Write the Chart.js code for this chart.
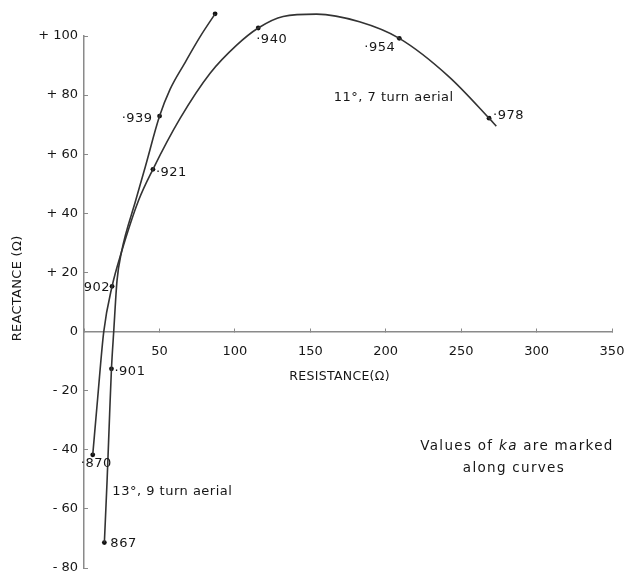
<!DOCTYPE html>
<html>
<head>
<meta charset="utf-8">
<script src="https://cdn.jsdelivr.net/npm/chart.js@4"></script>
<style>
html,body{margin:0;padding:0;background:#ffffff;overflow:hidden;width:638px;height:579px;}
#frame{width:638px;height:579px;overflow:hidden;position:relative;}
#wrap{width:638px;height:579px;position:relative;}
</style>
</head>
<body>
<div id="frame"><div id="wrap"><canvas id="c"></canvas></div></div>
<script>
// ---- data (resistance R in ohms, reactance X in ohms) ----
const aerial11Resistance = [5.8, 9.1, 13.1, 18.6, 24.8, 36.2, 45.7, 63.7, 83.6, 101.2, 115.5, 132.0, 154.2, 182.6, 209.0, 242.0, 268.5, 273.3];
const aerial11Reactance  = [-41.7, -22.3, 0, 15.3, 26.8, 44.4, 54.9, 72.1, 87.4, 96.9, 102.7, 106.6, 107.4, 104.8, 99.2, 86.2, 72.2, 69.5];

const aerial13Resistance = [13.5, 15.3, 17.0, 18.2, 19.7, 21.9, 24.8, 34.3, 40.6, 50.1, 57.1, 66.4, 76.9, 86.9];
const aerial13Reactance  = [-71.4, -50.5, -27.8, -12.6, 0, 17.3, 26.8, 44.4, 55.7, 72.9, 82.0, 90.5, 99.7, 107.5];

// marked ka values along the curves
const marked11Resistance = [5.8, 18.6, 45.7, 115.5, 209.0, 268.5];
const marked11Reactance  = [-41.7, 15.3, 54.9, 102.7, 99.2, 72.2];
const marked11Ka         = ['·870', '902', '·921', '·940', '·954', '·978'];

const marked13Resistance = [13.5, 18.2, 50.1, 86.9];
const marked13Reactance  = [-71.4, -12.6, 72.9, 107.5];
const marked13Ka         = ['867', '·901', '·939', ''];

const curveNames = ['11°, 7 turn aerial', '13°, 9 turn aerial'];
const xTickValues = [0, 50, 100, 150, 200, 250, 300, 350];
const yTickValues = [-80, -60, -40, -20, 0, 20, 40, 60, 80, 100];

// ---- styling ----
const FONT = '"DejaVu Sans", "Liberation Sans", sans-serif';
const INK = '#161616';
const LINE = '#333333';
const AXIS = '#8a8a8a';
// pixel frame of the reference plot: where R=0 / R=350 and X=100 / X=-80 sit
const PLOT_BOX = {left: 84, right: 612, top: 36, bottom: 568};
const pad = {top: 36, bottom: 11, left: 0, right: 26};

const labelStyle11 = [
  {dx: -12, dy: 9, align: 'left'},
  {dx: -2, dy: 1, align: 'right'},
  {dx: 3, dy: 3, align: 'left'},
  {dx: -2, dy: 12, align: 'left'},
  {dx: -4, dy: 9, align: 'right'},
  {dx: 4, dy: -3, align: 'left'}
];
const labelStyle13 = [
  {dx: 6, dy: 1, align: 'left'},
  {dx: 3, dy: 3, align: 'left'},
  {dx: -7, dy: 3, align: 'right'},
  {dx: 0, dy: 0, align: 'left'}
];

const toPoints = (xs, ys) => xs.map((x, i) => ({x: x, y: ys[i]}));

const annotationPlugin = {
  id: 'annot',
  afterDatasetsDraw(chart) {
    const ctx = chart.ctx;
    const xs = chart.scales.x, ys = chart.scales.y;
    const px = v => xs.getPixelForValue(v);
    const py = v => ys.getPixelForValue(v);
    ctx.save();
    ctx.fillStyle = INK;
    ctx.textBaseline = 'middle';
    ctx.font = '13px ' + FONT;
    ctx.letterSpacing = '0.5px';
    const drawLabels = (rs, xsv, labels, styles) => {
      labels.forEach((t, i) => {
        if (!t) return;
        const s = styles[i];
        ctx.textAlign = s.align;
        ctx.fillText(t, px(rs[i]) + s.dx, py(xsv[i]) + s.dy);
      });
    };
    drawLabels(marked11Resistance, marked11Reactance, marked11Ka, labelStyle11);
    drawLabels(marked13Resistance, marked13Reactance, marked13Ka, labelStyle13);

    // curve names
    ctx.textAlign = 'left';
    ctx.fillText(curveNames[0], px(165.5), py(79.3));
    ctx.fillText(curveNames[1], px(18.8), py(-54.2));

    // note
    ctx.letterSpacing = '1.3px';
    const f = '13.5px ' + FONT, fi = 'italic 13.5px ' + FONT;
    const p1 = 'Values of ', p2 = 'ka', p3 = ' are marked';
    ctx.font = f;
    const w1 = ctx.measureText(p1).width, w3 = ctx.measureText(p3).width;
    ctx.font = fi;
    const w2 = ctx.measureText(p2).width;
    const total = w1 + w2 + w3;
    const sx = px(287) - total / 2;
    const ny = py(-39);
    ctx.textAlign = 'left';
    ctx.font = f;
    ctx.fillText(p1, sx, ny);
    ctx.font = fi;
    ctx.fillText(p2, sx + w1, ny);
    ctx.font = f;
    ctx.fillText(p3, sx + w1 + w2, ny);
    ctx.textAlign = 'center';
    ctx.fillText('along curves', px(285), py(-46.4));

    // axis titles
    ctx.letterSpacing = '0.3px';
    ctx.font = '12.5px ' + FONT;
    ctx.textAlign = 'center';
    ctx.fillText('RESISTANCE(Ω)', px(169.4), py(-15.2));
    ctx.save();
    ctx.translate(xs.getPixelForValue(0) - 66, py(14.6));
    ctx.rotate(-Math.PI / 2);
    ctx.font = '13px ' + FONT;
    ctx.fillText('REACTANCE (Ω)', 0, 0);
    ctx.restore();
    ctx.letterSpacing = '0px';
    ctx.restore();
  }
};

const curveStyle = {
  showLine: true,
  borderColor: LINE,
  borderWidth: 1.6,
  pointRadius: 0,
  pointHoverRadius: 0,
  cubicInterpolationMode: 'monotone',
  fill: false,
  clip: false
};
const markStyle = {
  showLine: false,
  pointRadius: 2.4,
  pointHoverRadius: 30,
  pointBackgroundColor: '#111111',
  pointBorderWidth: 0,
  clip: false
};

const zeroPad = s => { s.paddingLeft = 0; s.paddingRight = 0; s.paddingTop = 0; s.paddingBottom = 0; };

const chartOptions = {
  responsive: true,
  maintainAspectRatio: false,
  animation: false,
  events: [],
  layout: {padding: Object.assign({}, pad)},
  plugins: {legend: {display: false}, tooltip: {enabled: false}},
  scales: {
    x: {
      type: 'linear',
      position: {y: 0},
      min: 0, max: 350,
      afterBuildTicks: s => { s.ticks = xTickValues.map(v => ({value: v})); },
      afterFit: s => { zeroPad(s); s.height = 0; },
      ticks: {
        color: INK,
        font: {family: FONT, size: 13},
        padding: 16,
        maxRotation: 0,
        callback: v => (v === 0 ? '' : String(v))
      },
      grid: {drawOnChartArea: false, drawTicks: true, tickLength: -4, color: AXIS, lineWidth: 1},
      border: {display: true, color: AXIS, width: 1.5}
    },
    y: {
      type: 'linear',
      position: 'left',
      min: -80, max: 100,
      afterBuildTicks: s => { s.ticks = yTickValues.map(v => ({value: v})); },
      afterFit: s => { s.width = 84; zeroPad(s); },
      ticks: {
        color: INK,
        font: {family: FONT, size: 13},
        padding: 10,
        callback: v => (v > 0 ? '+ ' + v : (v < 0 ? '- ' + Math.abs(v) : '0'))
      },
      grid: {drawOnChartArea: false, drawTicks: true, tickLength: -4, color: AXIS, lineWidth: 1},
      border: {display: true, color: AXIS, width: 1.5}
    }
  }
};

const chart = new Chart(document.getElementById('c'), {
  type: 'scatter',
  data: {
    datasets: [
      Object.assign({label: curveNames[0], data: toPoints(aerial11Resistance, aerial11Reactance)}, curveStyle),
      Object.assign({label: curveNames[1], data: toPoints(aerial13Resistance, aerial13Reactance)}, curveStyle),
      Object.assign({label: 'ka 11', data: toPoints(marked11Resistance, marked11Reactance)}, markStyle),
      Object.assign({label: 'ka 13', data: toPoints(marked13Resistance, marked13Reactance)}, markStyle)
    ]
  },
  options: chartOptions,
  plugins: [annotationPlugin]
});

// Settle the scales onto the reference's frame. Margins that the layout keeps
// below/right of the plot are absorbed by growing the (clipped) drawing box.
function frameError() {
  const xs = chart.scales.x, ys = chart.scales.y;
  return {
    dr: xs.getPixelForValue(350) - PLOT_BOX.right,
    dt: PLOT_BOX.top - ys.getPixelForValue(100),
    db: ys.getPixelForValue(-80) - PLOT_BOX.bottom
  };
}
function settle() {
  const wrap = document.getElementById('wrap');
  let W = 638, H = 579;
  for (let k = 0; k < 8; k++) {
    const e = frameError();
    if (Math.abs(e.dr) + Math.abs(e.dt) + Math.abs(e.db) < 0.5) break;
    W = Math.min(720, Math.max(600, W - e.dr));
    H = Math.min(680, Math.max(540, H - e.db));
    pad.top = Math.min(60, Math.max(10, pad.top + e.dt));
    wrap.style.width = W + 'px';
    wrap.style.height = H + 'px';
    chart.options.layout.padding = Object.assign({}, pad);
    chart.resize();
    chart.update('none');
  }
}
settle();
</script>
</body>
</html>
